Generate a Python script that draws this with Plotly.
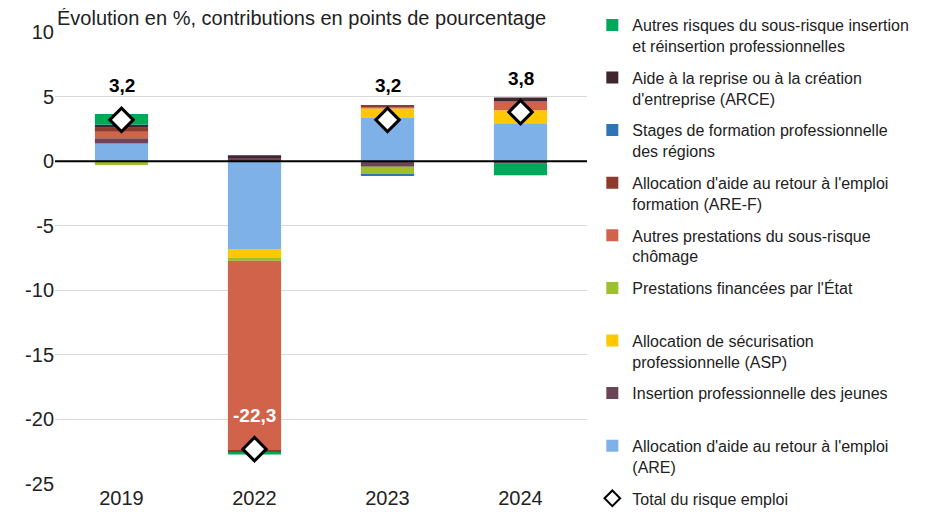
import plotly.graph_objects as go

years = ["2019", "2022", "2023", "2024"]

# contributions (points de pourcentage), stacking order from 0 outward
are = [1.37, -6.8, 3.35, 2.94]
insertion_jeunes = [0.4, 0.25, -0.44, -0.2]
asp = [0.0, -0.77, 0.73, 1.0]
prestations_etat = [-0.3, -0.15, -0.59, 0.0]
autres_chomage = [0.5, -14.7, 0.18, 0.67]
are_f = [0.3, -0.1, 0.07, 0.0]
stages = [0.05, 0.05, -0.1, 0.0]
arce = [0.2, 0.15, 0.0, 0.31]
autres_risques = [0.83, -0.2, 0.0, -0.9]
total = [3.2, -22.3, 3.2, 3.8]

series_names = [
    "Allocation d'aide au retour à l'emploi<br>(ARE)",
    "Insertion professionnelle des jeunes<br> ",
    "Allocation de sécurisation<br>professionnelle (ASP)",
    "Prestations financées par l'État<br> ",
    "Autres prestations du sous-risque<br>chômage",
    "Allocation d'aide au retour à l'emploi<br>formation (ARE-F)",
    "Stages de formation professionnelle<br>des régions",
    "Aide à la reprise ou à la création<br>d'entreprise (ARCE)",
    "Autres risques du sous-risque insertion<br>et réinsertion professionnelles",
]
series_values = [are, insertion_jeunes, asp, prestations_etat, autres_chomage,
                 are_f, stages, arce, autres_risques]
series_colors = ["#7EB1E8", "#6B4458", "#FFC800", "#9DC12B", "#D0634A",
                 "#8E3A2C", "#2E75B6", "#40262F", "#00A859"]
total_name = "Total du risque emploi"

y_tickvals = [-25, -20, -15, -10, -5, 0, 5, 10]
y_ticktext = ["-25", "-20", "-15", "-10", "-5", "0", "5", "10"]

FONT = "Liberation Sans, Arial, sans-serif"

fig = go.Figure()
n = len(series_names)
for i, (name, vals, col) in enumerate(zip(series_names, series_values, series_colors)):
    fig.add_trace(go.Bar(
        x=list(years), y=list(vals), name=name,
        marker=dict(color=col, line=dict(width=0)),
        legendrank=n - i, legendgroup=f"g{i}",
    ))

fig.add_trace(go.Scatter(
    x=list(years), y=list(total), name=total_name, mode="markers",
    marker=dict(symbol="diamond", size=18, color="white",
                line=dict(color="black", width=3)),
    legendrank=n + 1, legendgroup="gt",
))

# category index positions on the category axis
for idx, v in enumerate(total):
    fig.add_annotation(
        x=idx, y=v, xref="x", yref="y", yshift=34,
        text=f"<b>{v:.1f}</b>".replace(".", ","), showarrow=False,
        font=dict(size=19, color="white" if v < 0 else "black", family=FONT),
    )

fig.add_shape(type="line", xref="paper", yref="y", x0=0, x1=1, y0=0, y1=0,
              line=dict(color="black", width=2), layer="above")

fig.add_annotation(
    x=0, y=1, xref="paper", yref="paper", xanchor="left", yanchor="middle",
    yshift=14, showarrow=False,
    text="Évolution en %, contributions en points de pourcentage",
    font=dict(size=20, color="#222222", family=FONT),
)

fig.update_layout(
    width=930, height=506,
    margin=dict(l=47, r=351, t=24, b=30, autoexpand=False),
    barmode="relative", bargap=0.6,
    plot_bgcolor="white", paper_bgcolor="white",
    font=dict(family=FONT, size=20, color="#222222"),
    legend=dict(
        x=1.01, y=1.02, xref="paper", yref="container",
        xanchor="left", yanchor="top",
        font=dict(size=16, family=FONT, color="#222222"),
        tracegroupgap=8, valign="top", itemwidth=30, maxheight=1000,
        itemsizing="constant",
        bgcolor="rgba(0,0,0,0)",
    ),
    xaxis=dict(type="category", categoryorder="array", categoryarray=years,
               range=[-0.5, len(years) - 0.5],
               showline=False, ticks="", tickfont=dict(size=20)),
    yaxis=dict(range=[-25, 10], tickvals=y_tickvals, ticktext=y_ticktext,
               showgrid=True, gridcolor="#D9D9D9", gridwidth=1,
               zeroline=False, showline=False, ticks="", tickfont=dict(size=20)),
)

fig.write_html("out.html")
